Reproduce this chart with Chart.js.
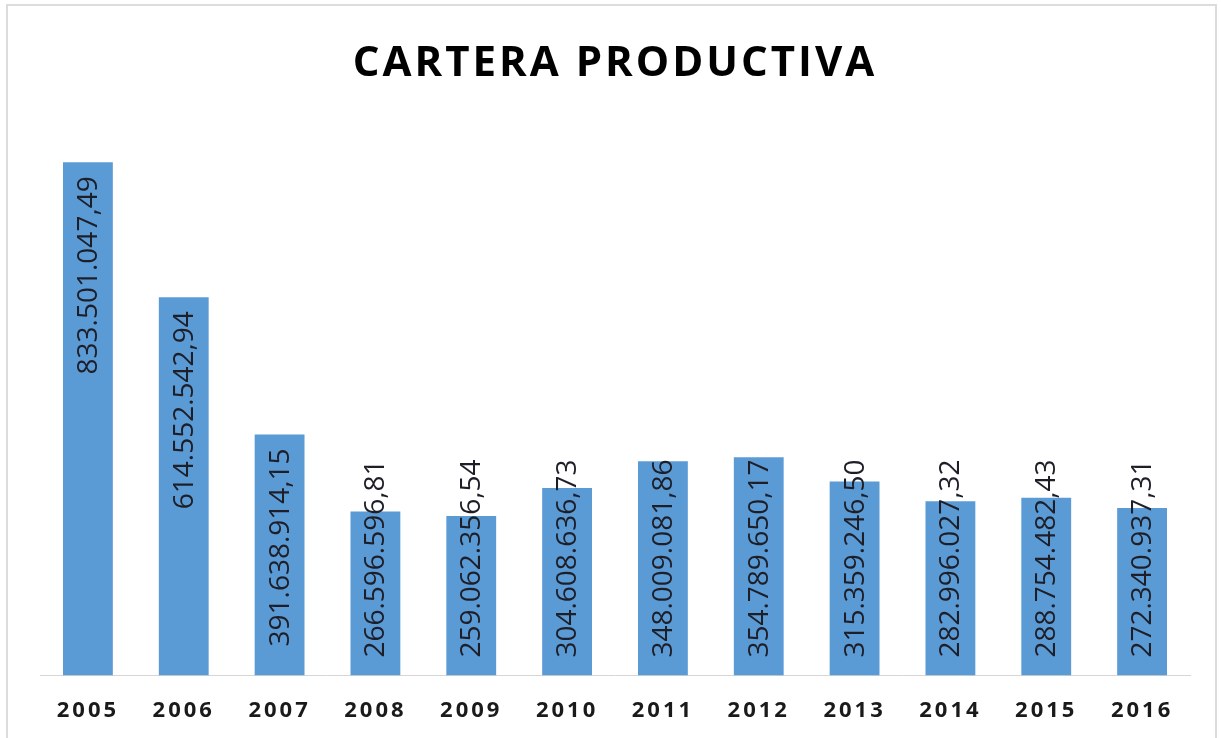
<!DOCTYPE html>
<html lang="es">
<head>
<meta charset="utf-8">
<title>Cartera productiva</title>
<script src="https://cdn.jsdelivr.net/npm/chart.js@4.4.1/dist/chart.umd.min.js"></script>
<style>
  html, body { margin: 0; padding: 0; background: #fff; overflow: hidden; width: 1221px; height: 738px; }
  #marco {
    position: absolute; left: 6px; top: 4px; width: 1211px; height: 800px;
    border: 2px solid #dcdcdc; box-sizing: border-box;
  }
  #lienzo { position: absolute; left: 0; top: 0; width: 1221px; height: 758px; }
</style>
</head>
<body>
<div id="marco"></div>
<div id="lienzo">
  <canvas id="grafica"></canvas>
</div>
<script>
// Años y saldo de la cartera productiva
const anios = ['2005', '2006', '2007', '2008', '2009', '2010', '2011', '2012', '2013', '2014', '2015', '2016'];
const cartera = [
  833501047.49, 614552542.94, 391638914.15, 266596596.81, 259062356.54, 304608636.73,
  348009081.86, 354789650.17, 315359246.50, 282996027.32, 288754482.43, 272340937.31
];
const titulo = 'CARTERA PRODUCTIVA';

// Formato con punto de miles y coma decimal
function formatoMonto(v) {
  const partes = v.toFixed(2).split('.');
  const entero = partes[0].replace(/\B(?=(\d{3})+(?!\d))/g, '.');
  return entero + ',' + partes[1];
}

// Espaciado de letras para título y años del eje
const espaciado = {
  id: 'espaciado',
  beforeDraw(chart) { chart.ctx.letterSpacing = '3px'; },
  beforeDatasetsDraw(chart) { chart.ctx.letterSpacing = '0px'; }
};

// Etiquetas verticales dentro del extremo de cada barra
const etiquetas = {
  id: 'etiquetas',
  afterDatasetsDraw(chart) {
    const ctx = chart.ctx;
    const meta = chart.getDatasetMeta(0);
    ctx.save();
    ctx.font = '28px "Open Sans", sans-serif';
    ctx.fillStyle = '#1e1e28';
    ctx.textAlign = 'right';
    ctx.textBaseline = 'middle';
    meta.data.forEach((barra, i) => {
      const texto = formatoMonto(cartera[i]);
      const ancho = ctx.measureText(texto).width;
      const arriba = Math.min(barra.y + 14, barra.base - 18 - ancho);
      ctx.save();
      ctx.translate(barra.x + 1, arriba);
      ctx.rotate(-Math.PI / 2);
      ctx.fillText(texto, 0, 0);
      ctx.restore();
    });
    ctx.restore();
  }
};

const ctx = document.getElementById('grafica').getContext('2d');
new Chart(ctx, {
  type: 'bar',
  data: {
    labels: anios,
    datasets: [{
      label: 'Cartera productiva',
      data: cartera,
      backgroundColor: '#5b9bd5',
      borderWidth: 0,
      barPercentage: 0.52,
      categoryPercentage: 1
    }]
  },
  options: {
    responsive: true,
    maintainAspectRatio: false,
    animation: false,
    layout: { padding: { left: 40, right: 31, top: 0, bottom: 12 } },
    scales: {
      x: {
        grid: { display: false, drawTicks: false },
        border: { display: true, color: '#d6d6d6', width: 1 },
        ticks: {
          color: '#1a1a1a',
          padding: 22,
          font: { family: '"Open Sans", sans-serif', size: 22, weight: 'bold' }
        }
      },
      y: {
        display: false,
        min: 0,
        max: 900000000
      }
    },
    plugins: {
      legend: { display: false },
      tooltip: { enabled: false },
      title: {
        display: true,
        text: titulo,
        color: '#000',
        font: { family: '"Open Sans", sans-serif', size: 42, weight: 'bold' },
        padding: { top: 39, bottom: 32 }
      }
    }
  },
  plugins: [espaciado, etiquetas]
});
</script>
</body>
</html>
